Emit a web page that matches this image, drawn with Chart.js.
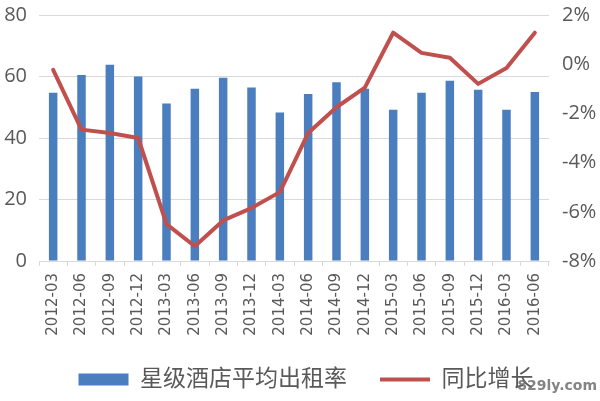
<!DOCTYPE html>
<html>
<head>
<meta charset="utf-8">
<script src="https://cdn.jsdelivr.net/npm/chart.js@4"></script>
<style>
  html, body { margin: 0; padding: 0; background: #fff; }
  #wrap { width: 600px; height: 401px; }
</style>
</head>
<body>
<div id="wrap"><canvas id="hotelChart"></canvas></div>
<script>
//Quarter labels
const quarters = ['2012-03', '2012-06', '2012-09', '2012-12', '2013-03', '2013-06', '2013-09', '2013-12',
    '2014-03', '2014-06', '2014-09', '2014-12', '2015-03', '2015-06', '2015-09', '2015-12', '2016-03', '2016-06'];

//Occupancy rate (left axis)
const occupancyRate = [54.7, 60.5, 63.8, 60.0, 51.2, 56.0, 59.6, 56.4, 48.3, 54.3, 58.1, 56.0, 49.2, 54.7, 58.6, 55.7, 49.2, 55.0];

//Year-on-year change in % (right axis)
const yoyGrowth = [-0.23, -2.66, -2.8, -3.0, -6.5, -7.4, -6.35, -5.85, -5.2, -2.8, -1.75, -0.95, 1.28, 0.46, 0.26, -0.8, -0.15, 1.28];

const barName = '星级酒店平均出租率';
const lineName = '同比增长';

const textGrey = '#595959';
Chart.defaults.font.family = "'Open Sans', 'Noto Sans CJK SC', sans-serif";
Chart.defaults.color = textGrey;

//watermark in the bottom right corner, legend nudged a bit to the right
const extras = {
    id: 'extras',
    afterLayout(chart) {
        chart.legend.left += 6;
        chart.legend.right += 6;
    },
    afterDraw(chart) {
        const c = chart.ctx;
        c.save();
        c.font = "bold 14px 'DejaVu Sans', sans-serif";
        c.fillStyle = 'rgba(110, 110, 110, 0.85)';
        c.textAlign = 'right';
        c.textBaseline = 'middle';
        c.fillText('829ly.com', 597, 386);
        c.restore();
    }
};

const ctx = document.getElementById('hotelChart').getContext('2d');

new Chart(ctx, {
    type: 'bar',
    data: {
        labels: quarters,
        datasets: [{
            type: 'bar',
            label: barName,
            data: occupancyRate,
            backgroundColor: '#4a7ebf',
            barPercentage: 0.3,
            categoryPercentage: 1,
            pointStyle: 'rect',
            yAxisID: 'y',
            order: 1
        }, {
            type: 'line',
            label: lineName,
            data: yoyGrowth,
            borderColor: '#c0504d',
            backgroundColor: '#c0504d',
            borderWidth: 4,
            borderJoinStyle: 'round',
            borderCapStyle: 'round',
            pointRadius: 0,
            pointStyle: 'line',
            tension: 0,
            yAxisID: 'y1',
            order: 0
        }]
    },
    options: {
        responsive: true,
        maintainAspectRatio: false,
        animation: false,
        layout: {
            padding: 0
        },
        scales: {
            x: {
                offset: true,
                grid: {
                    display: true,
                    drawOnChartArea: false,
                    color: '#d9d9d9',
                    tickLength: 5
                },
                border: { color: '#d9d9d9' },
                ticks: {
                    minRotation: 90,
                    maxRotation: 90,
                    autoSkip: false,
                    padding: 7,
                    font: { size: 15, family: "'DejaVu Sans', sans-serif" }
                },
                afterFit: scale => { scale.height = 74; }
            },
            y: {
                position: 'left',
                min: 0,
                max: 80,
                ticks: {
                    stepSize: 20,
                    padding: 12,
                    font: { size: 20 }
                },
                grid: {
                    color: '#d9d9d9',
                    drawTicks: false
                },
                border: { display: false },
                afterFit: scale => { scale.width = 39; scale.paddingTop = 15; }
            },
            y1: {
                position: 'right',
                min: -8,
                max: 2,
                ticks: {
                    stepSize: 2,
                    padding: 13,
                    font: { size: 20 },
                    callback: v => v + '%'
                },
                grid: { display: false, drawTicks: false },
                border: { display: false },
                afterFit: scale => { scale.width = 51; scale.paddingTop = 15; }
            }
        },
        plugins: {
            legend: {
                position: 'bottom',
                labels: {
                    usePointStyle: true,
                    pointStyleWidth: 50,
                    boxHeight: 12,
                    padding: 33,
                    color: textGrey,
                    font: { size: 23 },
                    sort: (a, b) => a.datasetIndex - b.datasetIndex
                }
            },
            tooltip: { enabled: false }
        }
    },
    plugins: [extras]
});
</script>
</body>
</html>
